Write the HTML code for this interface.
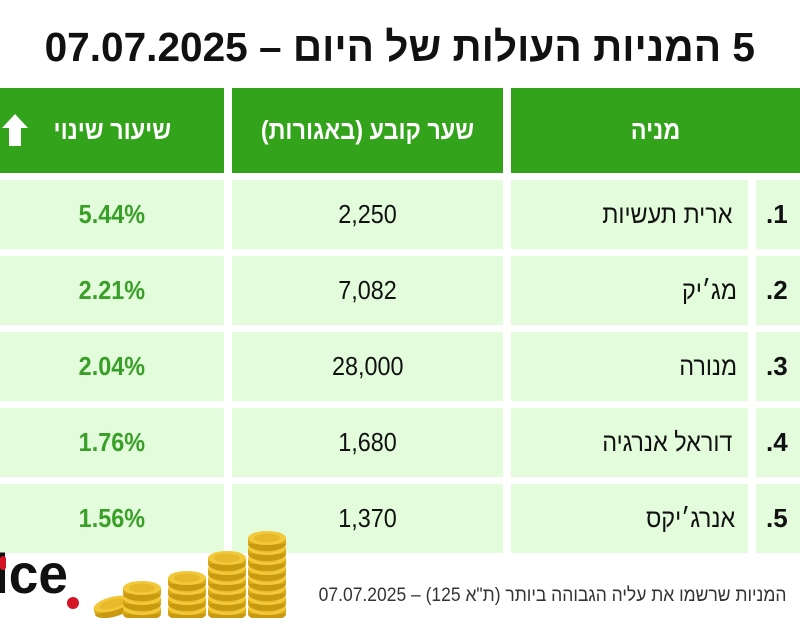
<!DOCTYPE html>
<html><head><meta charset="utf-8"><style>
body{margin:0;width:800px;height:638px;background:#fff;position:relative;overflow:hidden;font-family:"Liberation Sans","Noto Sans CJK JP",sans-serif;}
.a{position:absolute;}
.h{background:#33a31b;color:#fff;font-weight:bold;font-size:26px;display:flex;align-items:center;justify-content:center;}
.c{background:#e3fcdc;display:flex;align-items:center;font-size:26px;color:#111;}
.g{color:#3a9f28;font-weight:bold;justify-content:center;}
.n{justify-content:center;}
.t{justify-content:flex-end;padding-right:8px;box-sizing:border-box;}
.k{justify-content:flex-start;padding-left:10px;box-sizing:border-box;font-weight:bold;font-size:26px;}
.sq{display:inline-block;transform:scaleX(0.9);white-space:nowrap;}
</style></head><body>
<div class="a" style="left:0;top:22px;width:800px;text-align:center;font-weight:bold;font-size:41px;line-height:50px;color:#111;"><span class="sq" style="transform:scaleX(0.99)" dir="rtl">5 המניות העולות של היום – 07.07.2025</span></div>

<div class="a h" style="left:0;top:88px;width:224px;height:85px;"><span class="sq" dir="rtl">שיעור שינוי</span></div>
<svg class="a" style="left:0;top:110px" width="30" height="40"><polygon points="2,18 15,4 28,18 21,18 21,36 9,36 9,18" fill="#fff"/></svg>
<div class="a h" style="left:232px;top:88px;width:271px;height:85px;"><span class="sq" dir="rtl">שער קובע (באגורות)</span></div>
<div class="a h" style="left:511px;top:88px;width:289px;height:85px;"><span class="sq" dir="rtl">מניה</span></div>

<div class="a c g" style="left:0;top:180px;width:224px;height:69px;"><span class="sq">5.44%</span></div>
<div class="a c n" style="left:232px;top:180px;width:271px;height:69px;"><span class="sq">2,250</span></div>
<div class="a c t" style="left:511px;top:180px;width:237px;height:69px;"><span class="sq" dir="rtl">ארית תעשיות</span></div>
<div class="a c k" style="left:756px;top:180px;width:44px;height:69px;">.1</div>

<div class="a c g" style="left:0;top:256px;width:224px;height:69px;"><span class="sq">2.21%</span></div>
<div class="a c n" style="left:232px;top:256px;width:271px;height:69px;"><span class="sq">7,082</span></div>
<div class="a c t" style="left:511px;top:256px;width:237px;height:69px;"><span class="sq" dir="rtl">מג׳יק</span></div>
<div class="a c k" style="left:756px;top:256px;width:44px;height:69px;">.2</div>

<div class="a c g" style="left:0;top:332px;width:224px;height:69px;"><span class="sq">2.04%</span></div>
<div class="a c n" style="left:232px;top:332px;width:271px;height:69px;"><span class="sq">28,000</span></div>
<div class="a c t" style="left:511px;top:332px;width:237px;height:69px;"><span class="sq" dir="rtl">מנורה</span></div>
<div class="a c k" style="left:756px;top:332px;width:44px;height:69px;">.3</div>

<div class="a c g" style="left:0;top:408px;width:224px;height:69px;"><span class="sq">1.76%</span></div>
<div class="a c n" style="left:232px;top:408px;width:271px;height:69px;"><span class="sq">1,680</span></div>
<div class="a c t" style="left:511px;top:408px;width:237px;height:69px;"><span class="sq" dir="rtl">דוראל אנרגיה</span></div>
<div class="a c k" style="left:756px;top:408px;width:44px;height:69px;">.4</div>

<div class="a c g" style="left:0;top:484px;width:224px;height:69px;"><span class="sq">1.56%</span></div>
<div class="a c n" style="left:232px;top:484px;width:271px;height:69px;"><span class="sq">1,370</span></div>
<div class="a c t" style="left:511px;top:484px;width:237px;height:69px;"><span class="sq" dir="rtl">אנרג׳יקס</span></div>
<div class="a c k" style="left:756px;top:484px;width:44px;height:69px;">.5</div>

<div class="a" style="left:-6px;top:546px;font-weight:bold;font-size:56px;line-height:56px;color:#111;"><span class="sq" style="transform:scaleX(0.95);transform-origin:left">ice</span></div>
<div class="a" style="left:67px;top:597px;width:12px;height:12px;border-radius:50%;background:#d41424;"></div>
<div class="a" style="left:0;top:556px;width:6px;height:14px;border-radius:3px;background:#d41424;"></div>

<svg class="a" style="left:90px;top:528px" width="200" height="90">
<defs><g id="cn"><ellipse cx="0" cy="6" rx="19" ry="7" fill="#c99a10"/><rect x="-19" y="0" width="38" height="6" fill="#d9a817"/><ellipse cx="0" cy="0" rx="19" ry="7" fill="#f2c93a"/><ellipse cx="0" cy="0" rx="13" ry="4.5" fill="#e8b92a"/></g></defs>
<g transform="translate(22,76) rotate(-15)"><use href="#cn"/></g>
<use href="#cn" x="52" y="80"/><use href="#cn" x="52" y="70"/><use href="#cn" x="52" y="60"/>
<use href="#cn" x="97" y="80"/><use href="#cn" x="97" y="70"/><use href="#cn" x="97" y="60"/><use href="#cn" x="97" y="50"/>
<use href="#cn" x="137" y="80"/><use href="#cn" x="137" y="70"/><use href="#cn" x="137" y="60"/><use href="#cn" x="137" y="50"/><use href="#cn" x="137" y="40"/><use href="#cn" x="137" y="30"/>
<use href="#cn" x="177" y="80"/><use href="#cn" x="177" y="70"/><use href="#cn" x="177" y="60"/><use href="#cn" x="177" y="50"/><use href="#cn" x="177" y="40"/><use href="#cn" x="177" y="30"/><use href="#cn" x="177" y="20"/><use href="#cn" x="177" y="10"/>
</svg>

<div class="a" style="right:14px;top:585px;font-size:19px;color:#333;white-space:nowrap;"><span class="sq" style="transform:scaleX(0.92);transform-origin:right" dir="rtl">המניות שרשמו את עליה הגבוהה ביותר (ת"א 125) – 07.07.2025</span></div>
</body></html>
